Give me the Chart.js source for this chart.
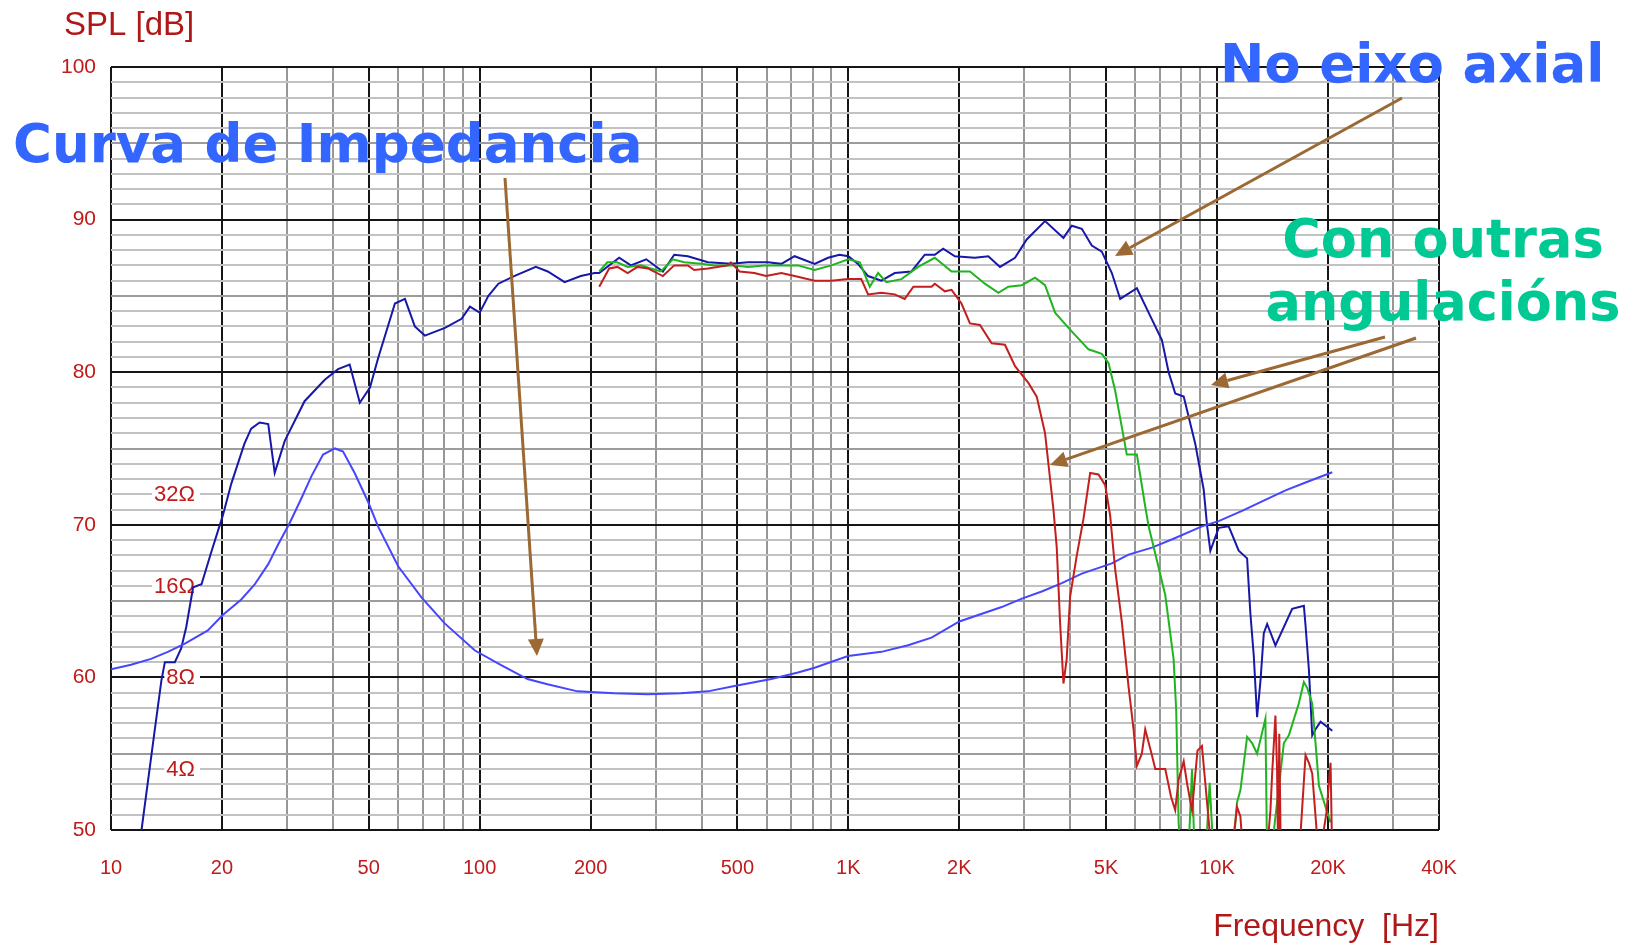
<!DOCTYPE html>
<html>
<head>
<meta charset="utf-8">
<title>SPL / Impedancia</title>
<script src="https://cdn.jsdelivr.net/npm/chart.js@4.4.1/dist/chart.umd.min.js"></script>
<style>
  html, body { margin: 0; padding: 0; background: #fff; }
  canvas { display: block; }
</style>
</head>
<body>
<canvas id="spl-chart" width="1639" height="947"></canvas>
<script>
// Resposta no eixo (azul escuro)
const axialFreq = [12.1, 13.1, 13.7, 14, 14.9, 15.5, 16, 16.7, 17.6, 18.7, 20.1, 21.2, 23, 24, 25.3, 26.7, 27.8, 29.6, 33.5, 38, 41.3, 44.4, 47.3, 50.4, 53, 58.9, 62.7, 66.7, 71, 80.5, 89.3, 94.1, 100, 105.6, 112.4, 124, 142, 153, 170, 188, 205, 211, 239, 257, 283, 314, 337, 367, 416, 481, 534, 605, 658, 715, 810, 881, 946, 1000, 1062, 1131, 1229, 1336, 1483, 1612, 1716, 1808, 1945, 2203, 2397, 2578, 2832, 3046, 3416, 3832, 4036, 4297, 4574, 4869, 5184, 5462, 6062, 6523, 7087, 7391, 7704, 8121, 8730, 9201, 9393, 9591, 10105, 10757, 11450, 12066, 12314, 12580, 12843, 13120, 13392, 13675, 14400, 15990, 17200, 17380, 17750, 18120, 18500, 19090, 20540];
const axialSpl = [50, 56.3, 59.8, 61, 61, 61.9, 63.3, 65.9, 66.1, 68.2, 70.6, 72.7, 75.3, 76.3, 76.7, 76.6, 73.4, 75.5, 78.1, 79.5, 80.2, 80.5, 78, 79, 80.9, 84.5, 84.8, 83, 82.4, 82.9, 83.5, 84.3, 83.9, 85, 85.8, 86.3, 86.9, 86.6, 85.9, 86.3, 86.5, 86.5, 87.5, 87, 87.4, 86.6, 87.7, 87.6, 87.2, 87.1, 87.2, 87.2, 87.1, 87.6, 87.1, 87.5, 87.7, 87.6, 87.1, 86.3, 86, 86.5, 86.6, 87.7, 87.7, 88.1, 87.6, 87.5, 87.6, 86.9, 87.5, 88.7, 89.9, 88.8, 89.6, 89.4, 88.3, 87.9, 86.5, 84.8, 85.5, 83.9, 82.1, 80, 78.6, 78.4, 75.3, 72.3, 70, 68.3, 69.8, 69.9, 68.3, 67.8, 64.2, 61.4, 57.4, 59.8, 62.9, 63.5, 62.1, 64.5, 64.7, 63.4, 60.5, 56.2, 56.6, 57.1, 56.5];

// Outra angulacion (verde)
const greenFreq = [211, 222, 236, 252, 274, 291, 310, 334, 359, 399, 433, 491, 534, 592, 658, 730, 810, 899, 1000, 1074, 1143, 1204, 1268, 1393, 1546, 1716, 1905, 2137, 2346, 2552, 2716, 2955, 3209, 3416, 3637, 3954, 4481, 4869, 5077, 5292, 5692, 6062, 6386, 6523, 7237, 7624, 7750, 7866, 8000, 8350, 8554, 8700, 9300, 9550, 9800, 11000, 11330, 11570, 12066, 12450, 12843, 13527, 13675, 13960, 15180, 15660, 16670, 17200, 17570, 18120, 18500, 18900, 19700, 20320];
const greenSpl = [86.6, 87.2, 87.2, 86.9, 87, 86.8, 86.6, 87.4, 87.2, 87.1, 87, 87, 86.9, 87, 87, 87, 86.7, 87, 87.4, 87.2, 85.6, 86.5, 85.9, 86.1, 86.9, 87.5, 86.6, 86.6, 85.8, 85.2, 85.6, 85.7, 86.2, 85.7, 83.9, 82.9, 81.5, 81.2, 80.6, 78.8, 74.6, 74.6, 71.2, 69.9, 65.4, 61.2, 57.8, 50.5, 48, 48, 54, 48, 48, 53.1, 48, 48, 51.8, 52.6, 56.1, 55.7, 55, 57.3, 48, 48, 55.7, 56.2, 58.3, 59.7, 59.3, 58.3, 55.7, 52.9, 51.5, 50.5];

// Outra angulacion (vermello)
const redFreq = [211, 224.5, 236.5, 252, 268, 286, 314, 337, 367, 382, 416, 471, 480, 507, 556, 598, 658, 715, 810, 899, 998, 1084, 1131, 1229, 1336, 1422, 1501, 1681, 1716, 1827, 1905, 2027, 2137, 2275, 2447, 2659, 2832, 3078, 3243, 3416, 3488, 3600, 3675, 3752, 3832, 3910, 3995, 4165, 4343, 4528, 4770, 4973, 5130, 5292, 5520, 5754, 5937, 6062, 6252, 6386, 6659, 6800, 7237, 7500, 7700, 7866, 8121, 8300, 8554, 8850, 9100, 9300, 9500, 9700, 10900, 11330, 11570, 11800, 13600, 13960, 14110, 14400, 14550, 14650, 14750, 14900, 16670, 17380, 17750, 18120, 18900, 19800, 20320, 20540];
const redSpl = [85.6, 86.8, 86.9, 86.5, 86.9, 86.8, 86.3, 87, 87, 86.7, 86.8, 87, 87.2, 86.6, 86.5, 86.3, 86.5, 86.3, 86, 86, 86.1, 86.1, 85.1, 85.2, 85.1, 84.8, 85.6, 85.6, 85.8, 85.3, 85.4, 84.5, 83.2, 83.1, 81.9, 81.8, 80.4, 79.3, 78.4, 76, 74, 71, 68.5, 63.6, 59.6, 61.2, 65.3, 68, 70.4, 73.4, 73.3, 72.6, 70.6, 67.1, 63.6, 59.4, 56.6, 54.2, 55, 56.6, 54.9, 54, 54, 52.2, 51.3, 53.3, 54.5, 53, 51.3, 55.2, 55.5, 53, 50.5, 48, 48, 51.5, 50.9, 48, 48, 51.3, 53.7, 57.5, 53.9, 48, 56.3, 48, 48, 54.9, 54.4, 53.7, 48, 51.1, 54.4, 48];

// Curva de impedancia (ohm)
const impFreq = [10, 11.33, 12.84, 14.26, 15.82, 18.31, 20.1, 22.56, 24.5, 26.7, 28.4, 30.5, 32.8, 35, 37.6, 40.5, 42.6, 45.8, 49.8, 53, 60.1, 69.6, 80.5, 97.1, 114, 134.8, 152.7, 184.3, 231.7, 285.6, 351.6, 415.7, 491, 618, 730, 810, 998, 1229, 1452, 1681, 2000, 2605, 2955, 3346, 3793, 4297, 5184, 5754, 6659, 7704, 9100, 10100, 11690, 13250, 15340, 17380, 20540];
const impOhm = [8.5, 8.8, 9.2, 9.7, 10.3, 11.4, 12.8, 14.4, 16.1, 18.8, 21.8, 25.6, 30.8, 36.6, 43, 45, 44, 37.4, 30.1, 25, 18.5, 14.6, 12, 9.8, 8.8, 7.9, 7.6, 7.2, 7.1, 7.05, 7.1, 7.2, 7.5, 7.9, 8.3, 8.6, 9.4, 9.7, 10.2, 10.8, 12.2, 13.6, 14.5, 15.3, 16.3, 17.5, 18.9, 20.2, 21.3, 22.9, 25, 26, 28.1, 30.2, 32.8, 34.8, 37.6];

// Eixos
const xGridValues = [10, 20, 30, 40, 50, 60, 70, 80, 90, 100, 200, 300, 400, 500, 600, 700, 800, 900, 1000, 2000, 3000, 4000, 5000, 6000, 7000, 8000, 9000, 10000, 20000, 30000, 40000];
const xMajorValues = [10, 20, 50, 100, 200, 500, 1000, 2000, 5000, 10000, 20000, 40000];
const xTickLabels = ['10', '20', '50', '100', '200', '500', '1K', '2K', '5K', '10K', '20K', '40K'];
const ohmLabels = [4, 8, 16, 32];

const tickRed = '#c01a1a';
const tickFont = "'Liberation Sans Narrow', 'Liberation Sans', sans-serif";

function toPoints(xs, ys) {
    return xs.map((x, i) => ({ x: x, y: ys[i] }));
}

// Etiquetas de impedancia dentro da grafica
const ohmLabelPlugin = {
    id: 'ohmLabels',
    beforeDatasetsDraw(chart) {
        const ctx = chart.ctx;
        const imp = chart.scales.yImp;
        ctx.save();
        ctx.font = "22px " + tickFont;
        ctx.textAlign = 'right';
        ctx.textBaseline = 'middle';
        ohmLabels.forEach(o => {
            const y = imp.getPixelForValue(o);
            const w = ctx.measureText(o + 'Ω').width;
            ctx.fillStyle = '#fff';
            ctx.fillRect(193 - w, y - 10, w + 7, 20);
            ctx.fillStyle = tickRed;
            ctx.fillText(o + 'Ω', 195, y + 1);
        });
        ctx.restore();
    }
};

// Textos e frechas
const notesPlugin = {
    id: 'notes',
    afterDraw(chart) {
        const ctx = chart.ctx;
        ctx.save();

        ctx.fillStyle = '#b01818';
        ctx.font = "33px 'Liberation Sans', sans-serif";
        ctx.textAlign = 'left';
        ctx.fillText('SPL [dB]', 64, 35);
        ctx.font = "32px 'Liberation Sans', sans-serif";
        ctx.textAlign = 'right';
        ctx.fillText('Frequency  [Hz]', 1439, 936);

        ctx.font = "bold 53px 'DejaVu Sans', sans-serif";
        ctx.fillStyle = '#3366ff';
        ctx.textAlign = 'left';
        ctx.fillText('Curva de Impedancia', 13, 162);
        ctx.fillText('No eixo axial', 1220, 82);
        ctx.font = "bold 52.5px 'DejaVu Sans', sans-serif";
        ctx.fillStyle = '#00c994';
        ctx.textAlign = 'center';
        ctx.fillText('Con outras', 1443, 257);
        ctx.fillText('angulacións', 1443, 320);

        const arrows = [
            [505, 178, 537, 656],
            [1402, 98, 1115, 256],
            [1385, 337, 1211, 385],
            [1416, 338, 1050, 465]
        ];
        ctx.strokeStyle = '#9c6833';
        ctx.fillStyle = '#9c6833';
        ctx.lineWidth = 3;
        arrows.forEach(([x1, y1, x2, y2]) => {
            const a = Math.atan2(y2 - y1, x2 - x1);
            const len = 17, half = 8;
            const bx = x2 - len * Math.cos(a), by = y2 - len * Math.sin(a);
            ctx.beginPath();
            ctx.moveTo(x1, y1);
            ctx.lineTo(bx, by);
            ctx.stroke();
            ctx.beginPath();
            ctx.moveTo(x2, y2);
            ctx.lineTo(bx + half * Math.sin(a), by - half * Math.cos(a));
            ctx.lineTo(bx - half * Math.sin(a), by + half * Math.cos(a));
            ctx.closePath();
            ctx.fill();
        });
        ctx.restore();
    }
};

const lineStyle = { borderWidth: 2, pointRadius: 0, tension: 0, fill: false };

const ctx = document.getElementById('spl-chart').getContext('2d');
const splChart = new Chart(ctx, {
    type: 'line',
    data: {
        datasets: [
            Object.assign({ label: 'Vermello', data: toPoints(redFreq, redSpl), borderColor: '#c41e1e' }, lineStyle),
            Object.assign({ label: 'Verde', data: toPoints(greenFreq, greenSpl), borderColor: '#1fb51f' }, lineStyle),
            Object.assign({ label: 'Impedancia', data: toPoints(impFreq, impOhm), borderColor: '#4646ff', yAxisID: 'yImp' }, lineStyle),
            Object.assign({ label: 'No eixo', data: toPoints(axialFreq, axialSpl), borderColor: '#1818a8' }, lineStyle)
        ]
    },
    options: {
        responsive: false,
        animation: false,
        events: [],
        layout: { padding: { top: 67, right: 200, left: 0, bottom: 0 } },
        plugins: {
            legend: { display: false },
            tooltip: { enabled: false }
        },
        scales: {
            x: {
                type: 'logarithmic',
                min: 10,
                max: 40000,
                afterBuildTicks: scale => { scale.ticks = xGridValues.map(v => ({ value: v })); },
                afterFit: scale => { scale.height = 117; },
                border: { display: false },
                grid: {
                    drawTicks: false,
                    lineWidth: 2,
                    color: c => (c.tick && xMajorValues.includes(c.tick.value)) ? '#151515' : '#979797'
                },
                ticks: {
                    autoSkip: false,
                    maxRotation: 0,
                    padding: 26,
                    color: tickRed,
                    font: { family: tickFont, size: 20 },
                    callback: value => {
                        const i = xMajorValues.indexOf(value);
                        return i >= 0 ? xTickLabels[i] : '';
                    }
                }
            },
            y: {
                min: 50,
                max: 100,
                afterFit: scale => { scale.width = 111; },
                border: { display: false },
                grid: {
                    drawTicks: false,
                    lineWidth: 2,
                    color: c => {
                        const v = c.tick ? c.tick.value : 0;
                        if (v % 10 === 0) return '#151515';
                        if (v % 5 === 0) return '#9c9c9c';
                        return '#c2c2c2';
                    }
                },
                ticks: {
                    stepSize: 1,
                    autoSkip: false,
                    padding: 15,
                    color: tickRed,
                    font: { family: tickFont, size: 21 },
                    callback: value => (value % 10 === 0 ? value : '')
                }
            },
            yImp: {
                type: 'logarithmic',
                position: 'right',
                display: false,
                min: 8 * Math.pow(10, -0.5),
                max: 800
            }
        }
    },
    plugins: [ohmLabelPlugin, notesPlugin]
});
</script>
</body>
</html>
